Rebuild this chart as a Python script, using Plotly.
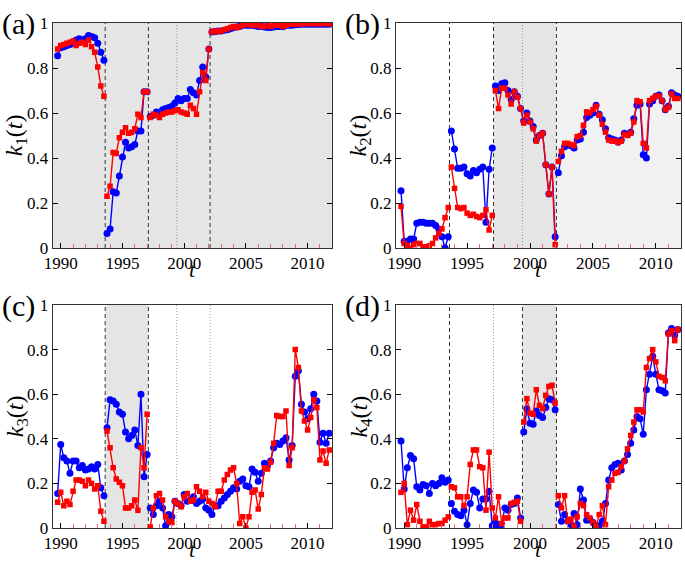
import plotly.graph_objects as go

# ---------------- data ----------------
t_start = 1989.75
t_step = 0.25
n_pts = 89
years = [t_start + t_step * i for i in range(n_pts)]

# panel (a)
a_blue = ([0.855, 0.89, 0.895, 0.90, 0.905, 0.915, 0.925, 0.93, 0.925, 0.93, 0.945, 0.94, 0.935, 0.91, 0.87, 0.835]
          + [0.065, 0.085, 0.25, 0.245, 0.32, 0.405, 0.47, 0.445, 0.45, 0.46, 0.52, 0.52, 0.695, 0.695]
          + [0.585, 0.59, 0.605, 0.595, 0.615, 0.62, 0.625, 0.63, 0.645, 0.665, 0.655, 0.665, 0.665, 0.705, 0.69, 0.68, 0.745, 0.805, 0.76, 0.885]
          + [0.96, 0.962, 0.965, 0.965, 0.968, 0.97, 0.975, 0.98, 0.982, 0.985,
             0.99, 0.99, 0.99, 0.99, 0.988, 0.985, 0.985, 0.982, 0.98, 0.98,
             0.982, 0.985, 0.985, 0.983, 0.99, 0.99, 0.99, 0.992, 0.993, 0.995,
             0.995, 0.995, 0.995, 0.995, 0.995, 0.995, 0.995, 0.995, 0.995])
a_red = ([0.885, 0.90, 0.905, 0.91, 0.915, 0.92, 0.90, 0.91, 0.915, 0.905, 0.925, 0.895, 0.87, 0.805, 0.72, 0.675]
         + [0.23, 0.275, 0.425, 0.42, 0.49, 0.515, 0.535, 0.51, 0.515, 0.53, 0.595, 0.58, 0.695, 0.695]
         + [0.58, 0.595, 0.59, 0.58, 0.595, 0.60, 0.605, 0.605, 0.61, 0.615, 0.605, 0.60, 0.595, 0.635, 0.62, 0.595, 0.695, 0.78, 0.745, 0.885]
         + [0.96, 0.965, 0.962, 0.965, 0.97, 0.975, 0.98, 0.985, 0.98, 0.985,
            0.99, 0.995, 0.995, 0.99, 0.99, 0.99, 0.985, 0.985, 0.99, 0.985,
            0.99, 0.99, 0.99, 0.985, 0.99, 0.995, 0.995, 0.995, 0.997, 0.997,
            0.997, 0.998, 0.998, 0.998, 0.998, 0.998, 0.998, 0.998, 0.997])

# panel (b)
b_blue = ([0.255, 0.03, 0.03, 0.04, 0.04, 0.11, 0.115, 0.115, 0.11, 0.11, 0.11, 0.10, 0.085, 0.05, 0.0, 0.05]
          + [0.52, 0.44, 0.355, 0.355, 0.36, 0.33, 0.32, 0.345, 0.335, 0.35, 0.36, 0.115, 0.35, 0.445]
          + [0.72, 0.70, 0.73, 0.735, 0.70, 0.66, 0.695, 0.675, 0.62, 0.565, 0.60, 0.565, 0.54, 0.48, 0.50, 0.51, 0.37, 0.24, 0.36, 0.05]
          + [0.335, 0.41, 0.45, 0.46, 0.455, 0.445, 0.48, 0.485, 0.515, 0.58,
             0.59, 0.60, 0.635, 0.595, 0.57, 0.53, 0.49, 0.485, 0.48, 0.47,
             0.48, 0.51, 0.505, 0.515, 0.575, 0.635, 0.64, 0.415, 0.40, 0.64,
             0.655, 0.675, 0.68, 0.655, 0.615, 0.63, 0.69, 0.68, 0.675])
b_red = ([0.185, 0.02, 0.01, 0.0, 0.015, 0.02, 0.02, 0.005, 0.005, 0.01, 0.02, 0.045, 0.065, 0.085, 0.135, 0.18]
         + [0.36, 0.265, 0.18, 0.175, 0.18, 0.155, 0.145, 0.15, 0.14, 0.135, 0.145, 0.17, 0.08, 0.145]
         + [0.70, 0.62, 0.71, 0.71, 0.68, 0.64, 0.695, 0.67, 0.62, 0.555, 0.59, 0.56, 0.53, 0.475, 0.50, 0.51, 0.37, 0.24, 0.36, 0.015]
         + [0.385, 0.43, 0.465, 0.465, 0.46, 0.455, 0.495, 0.50, 0.545, 0.605,
            0.60, 0.615, 0.63, 0.59, 0.55, 0.515, 0.48, 0.475, 0.475, 0.47,
            0.475, 0.505, 0.50, 0.51, 0.56, 0.655, 0.65, 0.465, 0.445, 0.655,
            0.665, 0.675, 0.675, 0.655, 0.615, 0.625, 0.685, 0.665, 0.665])

# panel (c)
c_blue = ([0.155, 0.375, 0.315, 0.30, 0.245, 0.30, 0.30, 0.27, 0.28, 0.26, 0.265, 0.275, 0.265, 0.285, 0.18, 0.145]
          + [0.45, 0.575, 0.57, 0.555, 0.52, 0.51, 0.43, 0.40, 0.415, 0.44, 0.37, 0.60, 0.23, 0.33]
          + [0.09, 0.06, 0.10, 0.12, 0.09, 0.01, 0.06, 0.05, 0.12, 0.11, 0.10, 0.15, 0.12, 0.125, 0.14, 0.11, 0.12, 0.13, 0.09, 0.08]
          + [0.06, 0.10, 0.10, 0.12, 0.135, 0.15, 0.165, 0.18, 0.175, 0.21,
             0.22, 0.19, 0.185, 0.265, 0.25, 0.21, 0.245, 0.29, 0.28, 0.30,
             0.36, 0.38, 0.375, 0.39, 0.405, 0.305, 0.37, 0.68, 0.705, 0.555,
             0.52, 0.49, 0.535, 0.60, 0.57, 0.385, 0.425, 0.38, 0.425])
c_red = ([0.115, 0.16, 0.10, 0.12, 0.105, 0.165, 0.215, 0.215, 0.21, 0.19, 0.215, 0.20, 0.175, 0.19, 0.075, 0.03]
         + [0.435, 0.36, 0.27, 0.22, 0.205, 0.19, 0.09, 0.09, 0.10, 0.125, 0.08, 0.36, 0.27, 0.51]
         + [0.005, 0.09, 0.145, 0.155, 0.125, 0.05, 0.03, 0.025, 0.12, 0.11, 0.095, 0.14, 0.155, 0.12, 0.125, 0.185, 0.165, 0.14, 0.16, 0.12]
         + [0.11, 0.095, 0.165, 0.165, 0.215, 0.24, 0.26, 0.27, 0.20, 0.02,
            0.05, 0.0, 0.05, 0.16, 0.17, 0.085, 0.15, 0.27, 0.265, 0.295,
            0.38, 0.505, 0.50, 0.50, 0.525, 0.28, 0.36, 0.80, 0.72, 0.525,
            0.48, 0.44, 0.495, 0.575, 0.54, 0.305, 0.345, 0.29, 0.35])

# panel (d)
d_blue = ([0.39, 0.175, 0.27, 0.325, 0.31, 0.185, 0.17, 0.195, 0.19, 0.155, 0.20, 0.19, 0.20, 0.225, 0.205, 0.215]
          + [0.11, 0.075, 0.06, 0.055, 0.08, 0.015, 0.11, 0.17, 0.16, 0.09, 0.13, 0.13, 0.165, 0.01]
          + [0.025, 0.005, 0.015, 0.09, 0.08, 0.105, 0.11, 0.135, 0.045]
          + [0.43, 0.535, 0.47, 0.465, 0.525, 0.505, 0.495, 0.54, 0.58, 0.575, 0.53]
          + [0.105, 0.03, 0.06, 0.03, 0.015, 0.065, 0.015, 0.175, 0.125, 0.035,
             0.04, 0.025, 0.01, 0.01, 0.03, 0.11, 0.215, 0.27, 0.285, 0.29,
             0.26, 0.30, 0.33, 0.38, 0.44, 0.50, 0.49, 0.42, 0.62, 0.69,
             0.77, 0.69, 0.62, 0.615, 0.605, 0.875, 0.895, 0.865, 0.89])
d_red = ([0.16, 0.20, 0.015, 0.08, 0.035, 0.105, 0.03, 0.005, 0.005, 0.03, 0.015, 0.015, 0.02, 0.02, 0.035, 0.05]
         + [0.185, 0.18, 0.14, 0.14, 0.10, 0.14, 0.285, 0.35, 0.35, 0.275, 0.27, 0.08, 0.34, 0.09]
         + [0.045, 0.14, 0.02, 0.045, 0.045, 0.11, 0.115, 0.12, 0.03]
         + [0.475, 0.58, 0.515, 0.51, 0.62, 0.55, 0.535, 0.595, 0.635, 0.64, 0.56]
         + [0.145, 0.09, 0.145, 0.03, 0.04, 0.005, 0.05, 0.11, 0.10, 0.06,
            0.045, 0.025, 0.005, 0.06, 0.10, 0.015, 0.185, 0.215, 0.245, 0.25,
            0.275, 0.30, 0.355, 0.415, 0.475, 0.53, 0.53, 0.52, 0.72, 0.76,
            0.80, 0.745, 0.68, 0.675, 0.66, 0.87, 0.885, 0.84, 0.89])

# regime boundaries (years)
b1, b2, b3, b4 = 1993.6, 1997.1, 1999.4, 2002.1
a_dashed, a_dotted = [b1, b2, b4], [b3]
b_dashed, b_dotted = [b1, b2, b4], [b3]
c_dashed, c_dotted = [b1, b2], [b3, b4]
d_dashed, d_dotted = [b1, b3, b4], [b2]

# shaded spans: (start, end, colour)
a_shade = [(None, None, "#e5e5e5")]
b_shade = [(b2, b4, "#e5e5e5"), (b4, None, "#f1f1f1")]
c_shade = [(b1, b2, "#e5e5e5")]
d_shade = [(b3, b4, "#e5e5e5")]

x_range = [1989.35, 2012.0]
x_ticks = [1990, 1995, 2000, 2005, 2010]
y_ticks = [0, 0.2, 0.4, 0.6, 0.8, 1]
y_ticktext = ["0", "0.2", "0.4", "0.6", "0.8", "1"]

W, H = 685, 563
panels = [
    dict(key="a", blue=a_blue, red=a_red, dashed=a_dashed, dotted=a_dotted, shade=a_shade,
         px=(52.7, 332.3), py=(23, 248), sub="1"),
    dict(key="b", blue=b_blue, red=b_red, dashed=b_dashed, dotted=b_dotted, shade=b_shade,
         px=(396, 681), py=(23, 248), sub="2"),
    dict(key="c", blue=c_blue, red=c_red, dashed=c_dashed, dotted=c_dotted, shade=c_shade,
         px=(52.7, 332.3), py=(305, 528), sub="3"),
    dict(key="d", blue=d_blue, red=d_red, dashed=d_dashed, dotted=d_dotted, shade=d_shade,
         px=(396, 681), py=(305, 528), sub="4"),
]


def with_gaps(xs, ys, breaks):
    ox, oy = [], []
    for i, (x, y) in enumerate(zip(xs, ys)):
        if i > 0 and any(xs[i - 1] < b < x for b in breaks):
            ox.append(None)
            oy.append(None)
        ox.append(x)
        oy.append(y)
    return ox, oy


FONT = "Liberation Serif, Times New Roman, Tinos, DejaVu Serif, serif"
fig = go.Figure()
layout = dict(width=W, height=H, margin=dict(l=0, r=0, t=0, b=0, pad=0), autosize=False,
              paper_bgcolor="white", plot_bgcolor="white", showlegend=False,
              shapes=[], annotations=[])

for i, p in enumerate(panels):
    n = "" if i == 0 else str(i + 1)
    xa, ya = "x" + n, "y" + n
    for vals, col, sym, size in [(p["blue"], "#0000ff", "circle", 7), (p["red"], "#ff0000", "square", 5.5)]:
        gx, gy = with_gaps(years, vals, p["dashed"])
        fig.add_trace(go.Scatter(x=gx, y=gy, mode="lines+markers", xaxis=xa, yaxis=ya,
                                 line=dict(color=col, width=1.4),
                                 marker=dict(color=col, symbol=sym, size=size, line=dict(width=0)),
                                 connectgaps=False, hoverinfo="skip"))
    xd = [p["px"][0] / W, p["px"][1] / W]
    yd = [1 - p["py"][1] / H, 1 - p["py"][0] / H]
    layout["xaxis" + n] = dict(domain=xd, range=x_range, anchor=ya, tickvals=x_ticks,
                               ticks="inside", ticklen=5, tickcolor="black", tickwidth=1,
                               showline=True, linecolor="#333", linewidth=1, mirror=True,
                               showgrid=False, zeroline=False, automargin=False,
                               tickfont=dict(family=FONT, size=17, color="black"),
                               minor=dict(ticks="inside", ticklen=4, tickcolor="#e07070",
                                          tick0=1990, dtick=1, tickwidth=1, showgrid=False))
    layout["yaxis" + n] = dict(domain=yd, range=[0, 1], anchor=xa, tickvals=y_ticks, ticktext=y_ticktext,
                               ticks="inside", ticklen=5, tickcolor="black", tickwidth=1,
                               showline=True, linecolor="#333", linewidth=1, mirror="ticks",
                               showgrid=False, zeroline=False, automargin=False,
                               tickfont=dict(family=FONT, size=17, color="black"))
    for (s0, s1, colr) in p["shade"]:
        layout["shapes"].append(dict(type="rect", xref=xa, yref=ya + " domain",
                                     x0=x_range[0] if s0 is None else s0,
                                     x1=x_range[1] if s1 is None else s1,
                                     y0=0, y1=1, fillcolor=colr, line=dict(width=0), layer="below"))
    for b in p["dashed"]:
        layout["shapes"].append(dict(type="line", xref=xa, yref=ya + " domain", x0=b, x1=b, y0=0, y1=1,
                                     line=dict(color="#333", width=1, dash="4px,3px"), layer="below"))
    for b in p["dotted"]:
        layout["shapes"].append(dict(type="line", xref=xa, yref=ya + " domain", x0=b, x1=b, y0=0, y1=1,
                                     line=dict(color="#999", width=1, dash="1px,2px"), layer="below"))
    # panel label
    layout["annotations"].append(dict(text="(" + p["key"] + ")", xref="paper", yref="paper",
                                      x=(p["px"][0] - 34) / W, y=1 - (p["py"][0] + 1) / H,
                                      xanchor="center", yanchor="middle", showarrow=False,
                                      font=dict(family=FONT, size=30, color="black")))
    # y title
    layout["annotations"].append(dict(text="<i>k</i><sub>" + p["sub"] + "</sub>(<i>t</i>)",
                                      xref="paper", yref="paper", textangle=-90,
                                      x=(p["px"][0] - 36) / W, y=1 - ((p["py"][0] + p["py"][1]) / 2) / H,
                                      xanchor="center", yanchor="middle", showarrow=False,
                                      font=dict(family=FONT, size=24, color="black")))
    # x title
    layout["annotations"].append(dict(text="<i>t</i>", xref="paper", yref="paper",
                                      x=((p["px"][0] + p["px"][1]) / 2) / W, y=1 - (p["py"][1] + 35) / H,
                                      xanchor="center", yanchor="bottom", showarrow=False, borderpad=0,
                                      font=dict(family=FONT, size=22, color="black")))

fig.update_layout(**layout)
fig.write_html("out.html", config={"displayModeBar": False},
               post_script="document.body.style.margin='0';document.body.style.overflow='hidden';")
